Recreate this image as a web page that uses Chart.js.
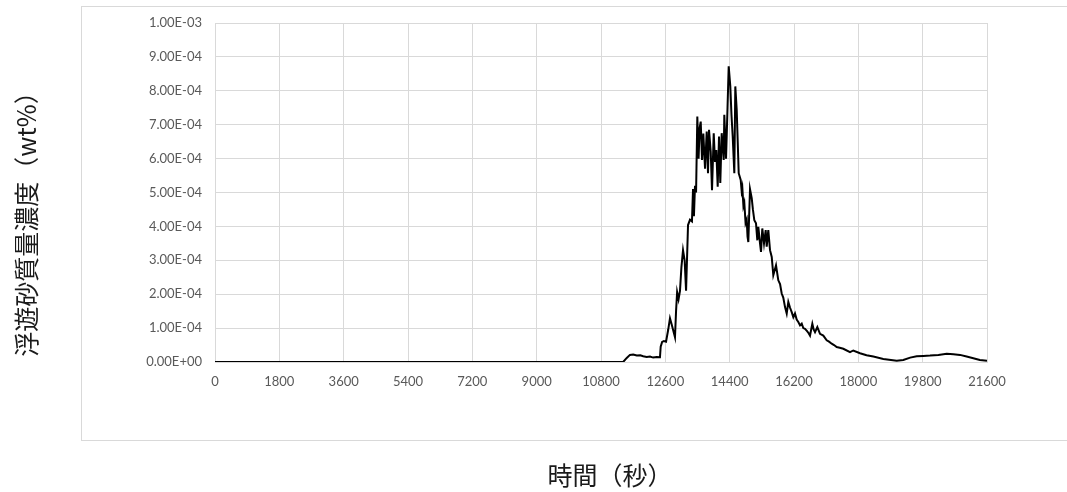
<!DOCTYPE html>
<html>
<head>
<meta charset="utf-8">
<script src="https://cdn.jsdelivr.net/npm/chart.js@4.4.1/dist/chart.umd.min.js"></script>
<style>
  body { margin: 0; background: #fff; }
  canvas { display: block; }
</style>
</head>
<body>
<canvas id="myChart" width="1067" height="492"></canvas>
<script>
// time axis (s) and concentration (wt%)
const times = [
  0, 11420, 11520, 11610, 11700, 11800, 11900, 11980, 12080, 12170,
  12260, 12360, 12450, 12470, 12510, 12560, 12620, 12680, 12730, 12780,
  12870, 12900, 12930, 12970, 13010, 13050, 13095, 13140, 13180, 13235,
  13290, 13345, 13375, 13400, 13430, 13460, 13495, 13530, 13560, 13590,
  13627, 13663, 13711, 13758, 13794, 13822, 13870, 13906, 13954, 13990,
  14026, 14065, 14102, 14138, 14177, 14210, 14233, 14250, 14298, 14340,
  14373, 14418, 14450, 14485, 14530, 14558, 14597, 14653, 14709, 14735,
  14754, 14785, 14810, 14845, 14877, 14900, 14922, 14969, 15017, 15050,
  15090, 15137, 15174, 15202, 15249, 15277, 15313, 15361, 15408, 15436,
  15481, 15529, 15577, 15621, 15697, 15761, 15810, 15856, 15900, 15949,
  15996, 16041, 16090, 16136, 16181, 16228, 16275, 16321, 16369, 16416,
  16460, 16508, 16560, 16610, 16648, 16713, 16750, 16788, 16853, 16928,
  17020, 17115, 17180, 17255, 17320, 17395, 17480, 17580, 17767, 17859,
  18047, 18230, 18419, 18699, 19074, 19258, 19450, 19633, 19820, 20006,
  20240, 20473, 20660, 20845, 21030, 21217, 21400, 21600
];
const concentration = [
  0, 0, 1.2e-5, 2.1e-5, 2.2e-5, 1.9e-5, 2.0e-5, 1.7e-5, 1.5e-5, 1.6e-5,
  1.3e-5, 1.5e-5, 1.4e-5, 4.5e-5, 5.9e-5, 6.2e-5, 6.0e-5, 9.5e-5, 1.29e-4, 1.1e-4,
  7.3e-5, 1.5e-4, 2.06e-4, 1.85e-4, 2.1e-4, 2.8e-4, 3.3e-4, 3.0e-4, 2.1e-4, 4.04e-4,
  4.2e-4, 4.15e-4, 5.1e-4, 4.3e-4, 5.2e-4, 5.0e-4, 7.24e-4, 6.0e-4, 6.9e-4, 7.09e-4,
  5.96e-4, 6.74e-4, 5.7e-4, 6.8e-4, 5.57e-4, 6.85e-4, 6.2e-4, 5.07e-4, 6.75e-4, 5.9e-4,
  6.25e-4, 5.17e-4, 6.65e-4, 5.28e-4, 6.75e-4, 6.3e-4, 5.96e-4, 7.29e-4, 6.0e-4, 7.5e-4,
  8.72e-4, 8.13e-4, 7.3e-4, 6.65e-4, 5.57e-4, 8.13e-4, 7.44e-4, 5.57e-4, 5.37e-4, 5.05e-4,
  5.15e-4, 4.6e-4, 4.7e-4, 4.1e-4, 4.2e-4, 3.7e-4, 3.54e-4, 5.1e-4, 4.83e-4, 4.5e-4,
  4.18e-4, 4.09e-4, 3.59e-4, 3.99e-4, 3.5e-4, 3.25e-4, 3.94e-4, 3.5e-4, 3.89e-4, 3.4e-4,
  3.89e-4, 3.3e-4, 3.1e-4, 2.56e-4, 2.85e-4, 2.41e-4, 2.3e-4, 2.02e-4, 1.9e-4, 1.62e-4,
  1.43e-4, 1.77e-4, 1.6e-4, 1.47e-4, 1.32e-4, 1.43e-4, 1.25e-4, 1.18e-4, 1.08e-4, 1.13e-4,
  1.0e-4, 9.8e-5, 9.2e-5, 8.5e-5, 7.8e-5, 1.13e-4, 9.6e-5, 8.8e-5, 1.03e-4, 8.3e-5,
  7.8e-5, 6.4e-5, 6.0e-5, 5.4e-5, 5.0e-5, 4.4e-5, 4.2e-5, 3.9e-5, 2.9e-5, 3.4e-5,
  2.6e-5, 2.0e-5, 1.6e-5, 9e-6, 4e-6, 6e-6, 1.3e-5, 1.7e-5, 1.8e-5, 1.9e-5,
  2.1e-5, 2.4e-5, 2.3e-5, 2.1e-5, 1.6e-5, 1.1e-5, 6e-6, 4e-6
];

const xTitle = '時間（秒）';
const yTitle = '浮遊砂質量濃度（wt%）';

// 1.00E-04 style labels
function sci(v) {
  if (v === 0) return '0.00E+00';
  const parts = v.toExponential(2).split('e');
  const ex = parseInt(parts[1], 10);
  return parts[0].toUpperCase() + 'E' + (ex < 0 ? '-' : '+') + String(Math.abs(ex)).padStart(2, '0');
}

const frame = {
  id: 'frame',
  beforeDraw(chart) {
    const c = chart.ctx;
    c.save();
    c.fillStyle = '#fff';
    c.fillRect(0, 0, chart.width, chart.height);
    c.strokeStyle = '#d9d9d9';
    c.lineWidth = 1;
    c.strokeRect(81.5, 6.5, chart.width, 434);
    c.restore();
  },
  afterDraw(chart) {
    const c = chart.ctx;
    c.save();
    c.fillStyle = '#1a1a1a';
    c.font = '25px "Noto Sans CJK JP"';
    c.textAlign = 'center';
    c.textBaseline = 'middle';
    c.fillText(xTitle, 610, 475);
    c.translate(26, 218);
    c.rotate(-Math.PI / 2);
    c.fillText(yTitle, 0, 0);
    c.restore();
  }
};

const gridColor = '#d9d9d9';
const tickFont = { family: 'Lato', size: 13 };

const ctx = document.getElementById('myChart').getContext('2d');
const myChart = new Chart(ctx, {
  type: 'line',
  data: {
    datasets: [{
      data: times.map((t, i) => ({ x: t, y: concentration[i] })),
      borderColor: '#000',
      borderWidth: 2,
      pointRadius: 0,
      tension: 0,
      fill: false
    }]
  },
  options: {
    responsive: false,
    animation: false,
    layout: { padding: { top: 23, right: 80, left: 0, bottom: 0 } },
    plugins: { legend: { display: false }, tooltip: { enabled: false } },
    scales: {
      x: {
        type: 'linear',
        min: 0,
        max: 21600,
        afterFit: s => { s.height = 130; },
        ticks: {
          stepSize: 1800,
          autoSkip: false,
          maxRotation: 0,
          color: '#595959',
          font: tickFont,
          padding: 12,
          callback: v => String(v)
        },
        grid: { color: gridColor, drawTicks: false },
        border: { color: gridColor }
      },
      y: {
        min: 0,
        max: 0.001,
        afterFit: s => { s.width = 215; },
        ticks: {
          stepSize: 0.0001,
          color: '#595959',
          font: tickFont,
          padding: 13,
          callback: v => sci(v)
        },
        grid: { color: gridColor, drawTicks: false },
        border: { color: gridColor }
      }
    }
  },
  plugins: [frame]
});
</script>
</body>
</html>
